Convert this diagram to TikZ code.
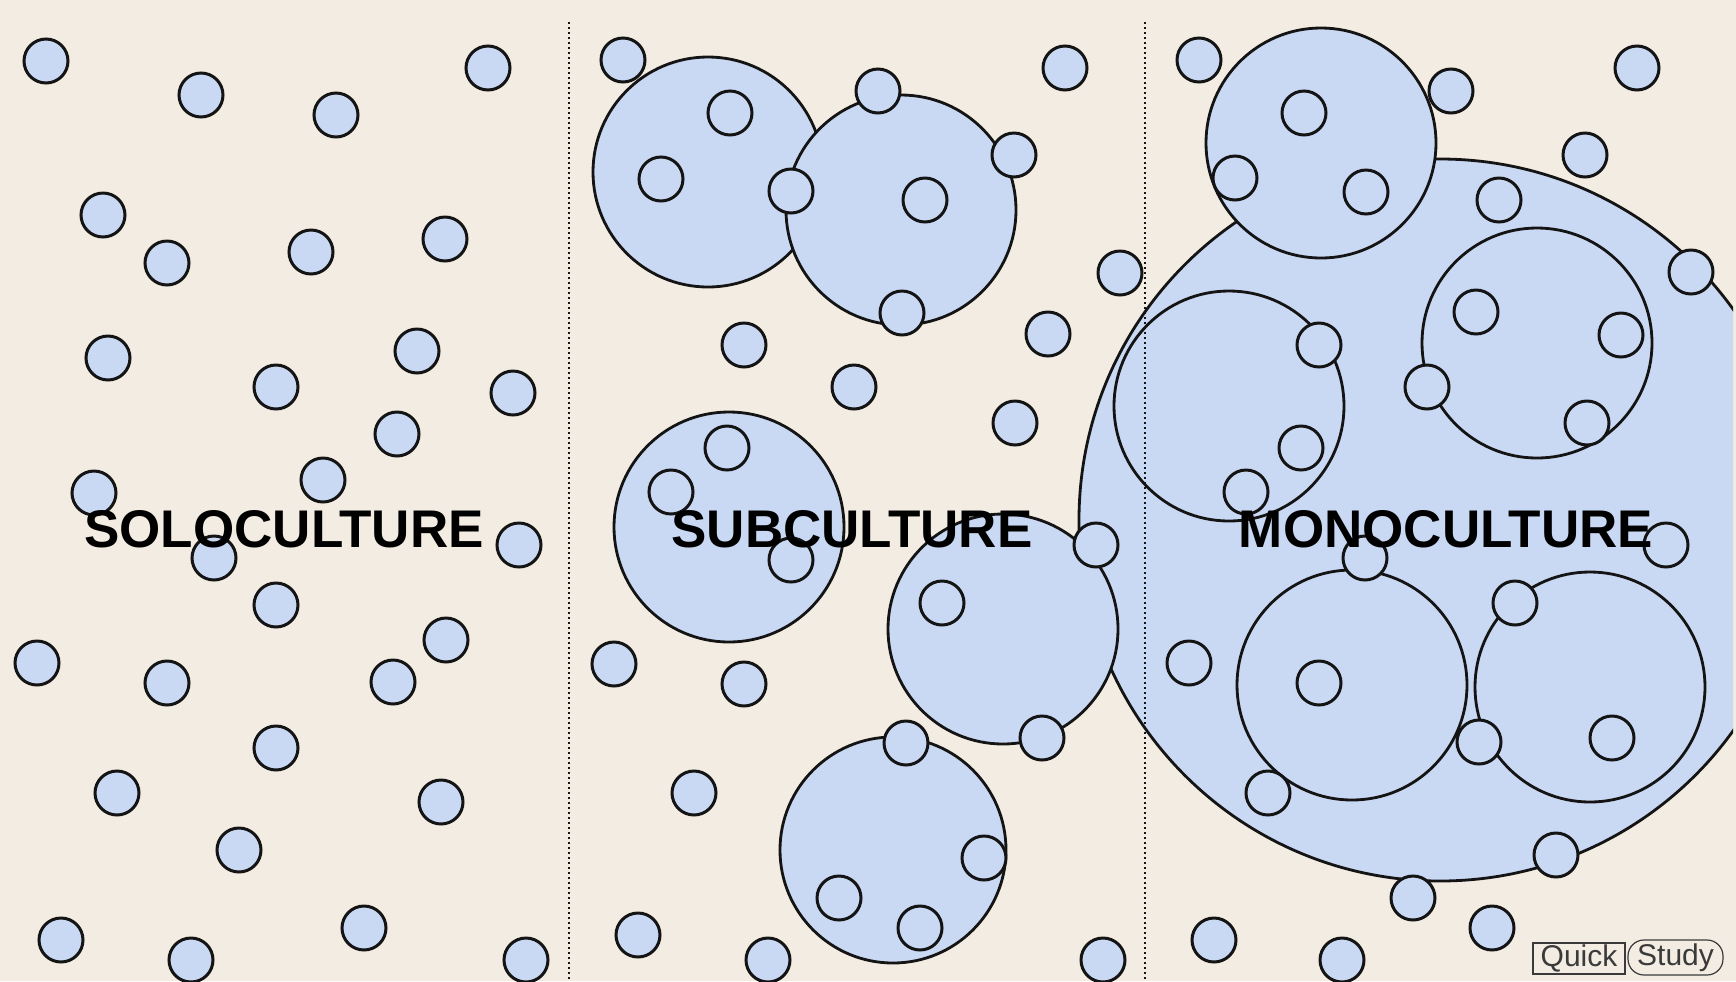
\documentclass[tikz,border=0pt]{standalone}
\usepackage{fontspec}
\setmainfont{Liberation Sans}
\begin{document}
\definecolor{bg}{HTML}{F3ECE2}
\definecolor{cellblue}{HTML}{C9D8F3}
\definecolor{ink}{HTML}{141414}
\definecolor{logoink}{HTML}{3A3A3A}
\begin{tikzpicture}[x=0.5pt,y=-0.5pt,
  sc/.style={circle,draw=ink,fill=cellblue,line width=1.5pt,minimum size=22pt,inner sep=0pt},
  bc/.style={circle,draw=ink,fill=cellblue,line width=1.4pt,minimum size=115pt,inner sep=0pt},
  gc/.style={circle,draw=ink,fill=cellblue,line width=1.4pt,minimum size=361pt,inner sep=0pt},
  divider/.style={draw=ink,line width=1.2pt,dash pattern=on 1.2pt off 1.3pt},
  title/.style={anchor=base,inner sep=0pt,text=black,font=\fontsize{26.5}{30}\selectfont\bfseries},
  logobox/.style={draw=logoink,line width=0.6pt,text=logoink,inner sep=0pt,font=\fontsize{15}{17}\selectfont}]
\useasboundingbox (0,0) rectangle (1736,981);
\fill[bg] (0,0) rectangle (1736,981);
% giant circle (monoculture), clipped at right edge
\begin{scope}
  \clip (0,0) rectangle (1733,981);
  \node[gc] (G) at (1440,520) {};
\end{scope}
\node[bc] (F) at (1321,143) {};
% subculture big circles
\node[bc] (A) at (708,172) {};
\node[bc] (B) at (901,210) {};
\node[bc] (C) at (729,527) {};
\node[bc] (D) at (1003,629) {};
\node[bc,minimum size=113pt] (E) at (893,850) {};
% monoculture inner circles
\node[bc] (H) at (1229,406) {};
\node[bc] (I) at (1537,343) {};
\node[bc] (J) at (1352,685) {};
\node[bc] (K) at (1590,687) {};
% small circles: soloculture
\foreach \x/\y [count=\i] in {46/61,201/95,336/115,488/68,103/215,167/263,311/252,445/239,108/358,276/387,417/351,513/393,397/434,323/480,94/493,214/558,519/545,276/605,37/663,167/683,446/640,393/682,276/748,117/793,441/802,239/850,61/940,191/960,364/928,526/960}
  \node[sc] (p\i) at (\x,\y) {};
% small circles: subculture
\foreach \x/\y [count=\i] in {623/60,730/113,661/179,791/191,878/91,1014/155,925/200,902/313,1065/68,1120/273,744/345,1048/334,854/387,1015/423,727/448,671/492,791/560,1096/545,942/603,1042/738,906/743,984/858,839/898,920/928,614/664,744/684,694/793,638/935,768/960,1103/960}
  \node[sc] (q\i) at (\x,\y) {};
% small circles: monoculture
\foreach \x/\y [count=\i] in {1199/60,1304/113,1235/178,1366/192,1451/91,1637/68,1585/155,1499/200,1691/272,1476/312,1621/335,1427/387,1587/423,1319/345,1301/448,1246/492,1365/558,1666/545,1515/603,1189/663,1319/683,1612/738,1479/742,1268/793,1556/855,1413/898,1492/928,1214/940,1342/960}
  \node[sc] (r\i) at (\x,\y) {};
% dotted dividers
\coordinate (d1t) at (569,22);
\coordinate (d1b) at (569,981);
\coordinate (d2t) at (1145,22);
\coordinate (d2b) at (1145,981);
\draw[divider] (d1t) -- (d1b);
\draw[divider] (d2t) -- (d2b);
% titles
\node[title] (t1) at (284,547) {SOLOCULTURE};
\node[title] (t2) at (852,547) {SUBCULTURE};
\node[title] (t3) at (1446,547) {MONOCULTURE};
% logo
\node[logobox,minimum width=46pt,minimum height=15.5pt] (quick) at (1579,958.5) {Quick};
\node[logobox,rounded corners=8pt,minimum width=47.5pt,minimum height=17.5pt] (study) at (1675.5,957.5) {Study};
\end{tikzpicture}
\end{document}
